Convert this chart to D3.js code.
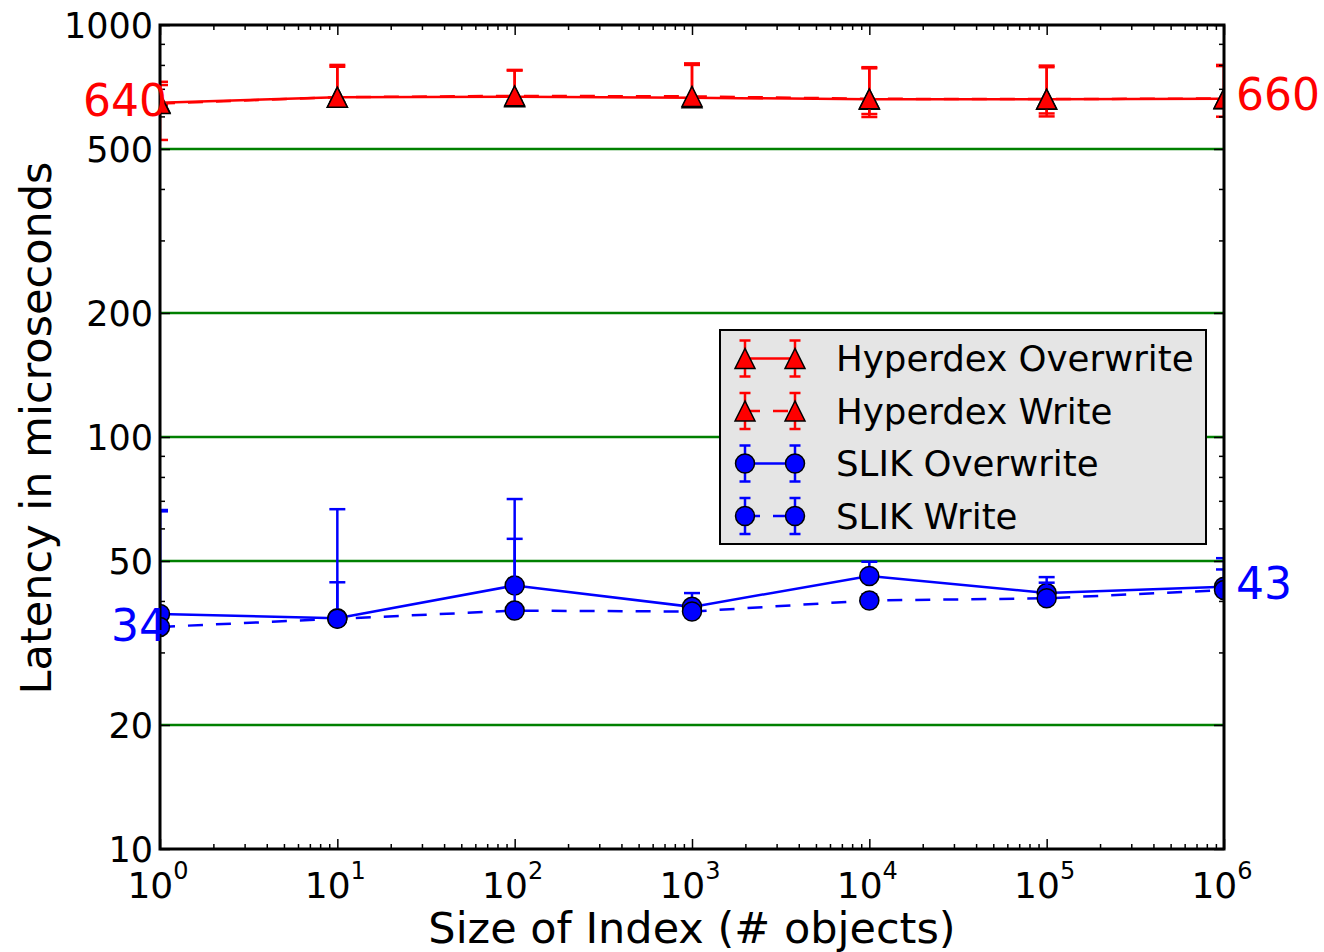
<!DOCTYPE html>
<html>
<head>
<meta charset="utf-8">
<script src="https://cdn.jsdelivr.net/npm/d3@7"></script>
<style>
body { margin: 0; background: #fff; }
text { font-family: "DejaVu Sans", sans-serif; }
</style>
</head>
<body>
<svg id="chart" width="1324" height="952"></svg>
<script>
// index sizes (# objects)
var sizes = [1, 10, 100, 1000, 10000, 100000, 1000000];

// latencies in microseconds
var hyperOverwrite   = [648, 668, 670, 666, 660, 660, 662];
var hyperOverwriteHi = [728, 800, 778, 807, 790, 797, 800];
var hyperOverwriteLo = [640, 650, 655, 650, 608, 610, 599];
var hyperWrite       = [645, 668, 673, 671, 662, 661, 663];
var hyperWriteHi     = [715, 792, 775, 800, 785, 790, 795];
var hyperWriteLo     = [526, 645, 650, 648, 598, 600, 640];

var slikOverwrite   = [37.2, 36.3, 43.6, 38.7, 46.0, 41.8, 43.3];
var slikOverwriteHi = [66.5, 66.8, 70.7, 41.8, 49.8, 45.7, 50.8];
var slikOverwriteLo = [36.0, 35.5, 42.5, 38.0, 45.0, 41.0, 42.5];
var slikWrite       = [34.6, 36.2, 37.9, 37.7, 40.1, 40.6, 42.5];
var slikWriteHi     = [66.0, 44.4, 56.6, 38.8, 41.5, 44.3, 47.7];
var slikWriteLo     = [34.0, 35.5, 37.2, 37.0, 39.5, 40.0, 42.0];

var seriesNames = ["Hyperdex Overwrite", "Hyperdex Write", "SLIK Overwrite", "SLIK Write"];
var yTickValues = [10, 20, 50, 100, 200, 500, 1000];
var gridValues = [20, 50, 100, 200, 500];

// values written beside the plot
var noteTexts  = ["640", "660", "34", "43"];
var noteValues = [640, 660, 34, 43];
var noteSides  = ["left", "right", "left", "right"];

function draw(){
    var red = "#ff0000", blue = "#0000ff";

    var series = [
        {name: seriesNames[0], vals: hyperOverwrite, hi: hyperOverwriteHi, lo: hyperOverwriteLo, color: red, dash: null, marker: "tri"},
        {name: seriesNames[1], vals: hyperWrite, hi: hyperWriteHi, lo: hyperWriteLo, color: red, dash: "15,13", marker: "tri"},
        {name: seriesNames[2], vals: slikOverwrite, hi: slikOverwriteHi, lo: slikOverwriteLo, color: blue, dash: null, marker: "circle"},
        {name: seriesNames[3], vals: slikWrite, hi: slikWriteHi, lo: slikWriteLo, color: blue, dash: "15,13", marker: "circle"}
    ];

    var pLeft = 160, pRight = 1224, pTop = 25, pBottom = 849;
    var svg = d3.select("#chart");

    var x = d3.scaleLog().domain([1, 1e6]).range([pLeft, pRight]);
    var y = d3.scaleLog().domain([10, 1000]).range([pBottom, pTop]);

    svg.append("defs").append("clipPath").attr("id", "plotclip")
       .append("rect").attr("x", pLeft).attr("y", pTop)
       .attr("width", pRight - pLeft).attr("height", pBottom - pTop);

    // green grid
    svg.append("g").selectAll("line")
       .data(gridValues).enter()
       .append("line")
       .attr("x1", pLeft).attr("x2", pRight)
       .attr("y1", function(d){ return y(d); })
       .attr("y2", function(d){ return y(d); })
       .style("stroke", "#008000")
       .style("stroke-width", 2.5);

    function drawMarker(g, type, cx, cy, color){
        if (type == "tri") {
            g.append("path")
             .attr("d", "M" + cx + "," + (cy - 10) + "L" + (cx - 10) + "," + (cy + 10) + "L" + (cx + 10) + "," + (cy + 10) + "Z")
             .style("fill", color).style("stroke", "black").style("stroke-width", 1.5);
        } else {
            g.append("circle").attr("cx", cx).attr("cy", cy).attr("r", 9.5)
             .style("fill", color).style("stroke", "black").style("stroke-width", 1.5);
        }
    }

    function drawErr(g, cx, y1, y2, capW, color){
        g.append("line").attr("x1", cx).attr("x2", cx).attr("y1", y1).attr("y2", y2)
         .style("stroke", color).style("stroke-width", 2.5);
        [y1, y2].forEach(function(yy){
            g.append("line").attr("x1", cx - capW).attr("x2", cx + capW).attr("y1", yy).attr("y2", yy)
             .style("stroke", color).style("stroke-width", 2.5);
        });
    }

    var plot = svg.append("g").attr("clip-path", "url(#plotclip)");
    var line = d3.line()
        .x(function(d){ return x(d[0]); })
        .y(function(d){ return y(d[1]); });

    series.forEach(function(s){
        var g = plot.append("g");
        sizes.forEach(function(sz, i){
            drawErr(g, x(sz), y(s.hi[i]), y(s.lo[i]), 8, s.color);
        });
        g.append("path")
         .attr("d", line(sizes.map(function(sz, i){ return [sz, s.vals[i]]; })))
         .style("fill", "none")
         .style("stroke", s.color)
         .style("stroke-width", 2.5)
         .style("stroke-dasharray", s.dash);
        sizes.forEach(function(sz, i){
            drawMarker(g, s.marker, x(sz), y(s.vals[i]), s.color);
        });
    });

    // ticks, pointing inward on all four sides
    var xMajor = sizes.slice();
    var xMinor = x.ticks().filter(function(d){ return xMajor.indexOf(d) < 0; });
    var yMinor = y.ticks().filter(function(d){ return yTickValues.indexOf(d) < 0; });

    function tickAxis(axis, vals, size, tx, ty){
        var g = svg.append("g").attr("transform", "translate(" + tx + "," + ty + ")")
            .call(axis.tickValues(vals).tickSize(-size).tickFormat(""));
        g.select(".domain").remove();
        g.selectAll("line").style("stroke", "black").style("stroke-width", 1.5);
        return g;
    }
    tickAxis(d3.axisBottom(x), xMajor, 10, 0, pBottom);
    tickAxis(d3.axisBottom(x), xMinor, 5, 0, pBottom);
    tickAxis(d3.axisTop(x), xMajor, 10, 0, pTop);
    tickAxis(d3.axisTop(x), xMinor, 5, 0, pTop);
    tickAxis(d3.axisLeft(y), yTickValues, 10, pLeft, 0);
    tickAxis(d3.axisLeft(y), yMinor, 5, pLeft, 0);
    tickAxis(d3.axisRight(y), yTickValues, 10, pRight, 0);
    tickAxis(d3.axisRight(y), yMinor, 5, pRight, 0);

    // y tick labels
    svg.append("g").selectAll("text")
       .data(yTickValues).enter()
       .append("text")
       .attr("x", pLeft - 7)
       .attr("y", function(d){ return y(d); })
       .attr("dy", "0.36em")
       .attr("text-anchor", "end")
       .style("font-size", "35px")
       .text(function(d){ return d; });

    // x tick labels 10^k
    var xl = svg.append("g").selectAll("text")
       .data(xMajor).enter()
       .append("text")
       .attr("x", function(d){ return x(d) - 2; })
       .attr("y", pBottom + 49)
       .attr("text-anchor", "middle")
       .style("font-size", "36px");
    xl.append("tspan").text("10");
    xl.append("tspan").attr("dy", -19).style("font-size", "24px")
      .text(function(d){ return Math.round(Math.log10(d)); });

    // frame
    svg.append("rect")
       .attr("x", pLeft).attr("y", pTop)
       .attr("width", pRight - pLeft).attr("height", pBottom - pTop)
       .style("fill", "none").style("stroke", "black").style("stroke-width", 3);

    // notes beside the plot
    noteTexts.forEach(function(t, i){
        svg.append("text")
           .attr("x", noteSides[i] == "left" ? pLeft + 7 : pRight + 12)
           .attr("y", y(noteValues[i]))
           .attr("dy", "0.25em")
           .attr("text-anchor", noteSides[i] == "left" ? "end" : "start")
           .style("font-size", "44px")
           .style("fill", i < 2 ? red : blue)
           .text(t);
    });

    // axis titles
    svg.append("text")
       .attr("x", (pLeft + pRight) / 2).attr("y", 943)
       .attr("text-anchor", "middle")
       .style("font-size", "43px")
       .text("Size of Index (# objects)");
    svg.append("text")
       .attr("transform", "translate(51,428) rotate(-90)")
       .attr("text-anchor", "middle")
       .style("font-size", "43px")
       .text("Latency in microseconds");

    // legend
    var lg = svg.append("g").attr("transform", "translate(720,330)");
    lg.append("rect").attr("width", 486).attr("height", 214)
      .style("fill", "#e5e5e5").style("stroke", "black").style("stroke-width", 2);
    series.forEach(function(s, i){
        var cy = 28.5 + i * 52.5;
        var row = lg.append("g");
        [25, 75].forEach(function(mx){ drawErr(row, mx, cy - 18, cy + 18, 5.5, s.color); });
        row.append("line").attr("x1", 25).attr("x2", 75).attr("y1", cy).attr("y2", cy)
           .style("stroke", s.color).style("stroke-width", 2.5)
           .style("stroke-dasharray", s.dash);
        [25, 75].forEach(function(mx){ drawMarker(row, s.marker, mx, cy, s.color); });
        row.append("text").attr("x", 116).attr("y", cy).attr("dy", "0.36em")
           .style("font-size", "35.6px").text(s.name);
    });
}

draw();
</script>
</body>
</html>
